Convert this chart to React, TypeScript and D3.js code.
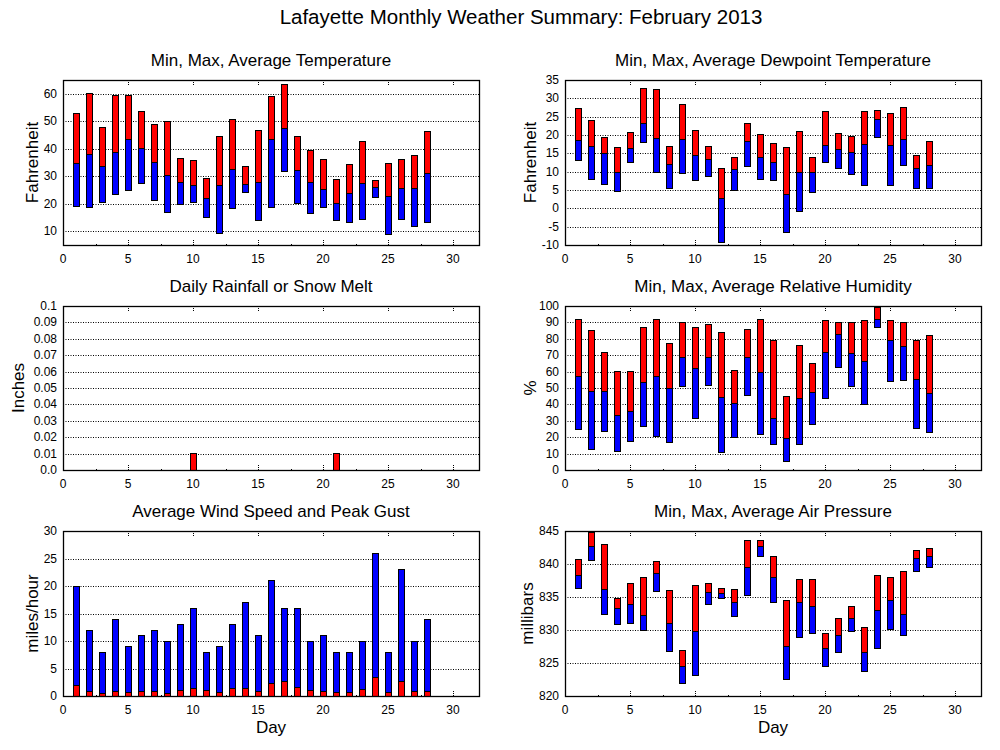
import * as d3 from "d3";
import React, {useEffect, useRef} from "react";

// day of month for every record
const days = [1, 2, 3, 4, 5, 6, 7, 8, 9, 10, 11, 12, 13, 14, 15, 16, 17, 18, 19, 20, 21, 22, 23, 24, 25, 26, 27, 28];

const tempMax = [53, 60, 47.6, 59.3, 59.3, 53.4, 49, 49.8, 36.6, 35.9, 29.3, 44.3, 50.5, 33.7, 46.5, 58.9, 63.3, 44.6, 39.5, 36.2, 28.9, 34.4, 42.8, 28.5, 34.8, 36.2, 37.7, 46.1];
const tempAvg = [34.8, 38, 33.7, 38.8, 43.2, 40.2, 35.1, 30.4, 27.8, 26.6, 22, 26.6, 32.6, 27.1, 27.8, 43.5, 47.2, 32.2, 27.8, 25.2, 20.1, 23.8, 27.4, 26, 22.7, 25.6, 25.6, 31.1];
const tempMin = [18.9, 18.5, 20.5, 23.4, 24.8, 27.4, 21.1, 16.8, 19.8, 20.5, 15, 9.1, 18.3, 24.1, 13.9, 18.7, 31.8, 20.1, 16.5, 18.7, 13.9, 13.2, 14.3, 22.3, 8.8, 14.3, 11.7, 13.2];

const dewMax = [27.2, 23.9, 19.3, 16.5, 20.6, 32.7, 32.4, 16.8, 28.3, 21.2, 16.8, 11, 13.8, 23.1, 20.1, 17.6, 16.5, 20.9, 14, 26.4, 20.4, 19.5, 26.4, 26.7, 25.9, 27.5, 14.3, 18.2];
const dewAvg = [18.4, 16.8, 14.9, 9.9, 16.2, 23.1, 19, 11.9, 18.7, 14.3, 13.2, 2.8, 10.5, 18.2, 13.8, 12.4, 3.9, 9.7, 9.9, 17.1, 16, 15.1, 17.3, 24.2, 17.1, 18.7, 10.8, 11.6];
const dewMin = [13, 8, 6.6, 4.7, 12.4, 17.9, 9.7, 5.3, 9.4, 7.7, 8.6, -9.3, 5, 11.3, 8, 7.5, -6.5, -0.8, 4.4, 12.4, 10.8, 9.1, 6.1, 19.3, 6.1, 11.6, 5.5, 5.3];

const rainfall = [0, 0, 0, 0, 0, 0, 0, 0, 0, 0.01, 0, 0, 0, 0, 0, 0, 0, 0, 0, 0, 0.01, 0, 0, 0, 0, 0, 0, 0];

const humMax = [91.9, 85.2, 71.7, 60.2, 60.2, 87, 91.9, 77.2, 90, 87, 88.8, 83.9, 60.8, 85.8, 91.9, 79.1, 44.9, 76, 65, 91.3, 90, 90, 91.3, 99.2, 91.3, 90, 79.1, 82.1];
const humAvg = [57.1, 47.8, 47.8, 33.3, 35.8, 53.5, 57.1, 49.8, 68.7, 62, 68.7, 44.3, 40.7, 68.7, 59.6, 31.5, 19.3, 43.7, 47.4, 71.7, 82.7, 71.1, 66.3, 91.9, 79.1, 75.4, 55.3, 46.7];
const humMin = [24.8, 12.6, 23.6, 11.4, 17.5, 26.6, 20.5, 16.9, 51, 31.5, 51.6, 10.8, 19.9, 45.5, 21.7, 15.7, 5.3, 15.7, 27.8, 43.7, 62.6, 51, 40, 87, 54.1, 54.7, 25.4, 23];

const windGust = [20, 12, 8, 14, 9, 11, 12, 10, 13, 16, 8, 9, 13, 17, 11, 21, 16, 16, 10, 11, 8, 8, 10, 26, 8, 23, 10, 14];
const windAvg = [1.9, 0.9, 0.5, 0.85, 0.67, 0.85, 0.85, 0.5, 1.0, 1.4, 1.0, 0.67, 1.4, 1.4, 0.85, 2.3, 2.67, 1.58, 1.0, 0.85, 0.67, 0.67, 1.2, 3.4, 0.67, 2.67, 0.85, 0.85];

const presMax = [840.75, 844.7, 842.9, 834.7, 837, 838, 840.4, 836, 826.9, 836.8, 837.1, 836.3, 836.2, 843.6, 843.6, 841.2, 834.5, 837.7, 837.7, 829.5, 831.8, 833.5, 830.4, 838.2, 838, 838.8, 842, 842.4];
const presAvg = [838.2, 842.6, 836.2, 833.2, 833.8, 832.2, 838.5, 831, 824.4, 829.7, 835.7, 835.6, 834.1, 839.4, 842.7, 837.9, 827.5, 834.1, 833.6, 827.2, 829.2, 831.8, 826.6, 832.9, 834.4, 832.4, 840.9, 841.2];
const presMin = [836.35, 840.6, 832.4, 830.9, 831, 830, 835.9, 826.8, 821.9, 823.1, 833.8, 834.7, 832.1, 835.3, 841.2, 834.2, 822.5, 828.8, 829.4, 824.4, 826.6, 829.8, 823.7, 827.2, 830.1, 829.1, 838.8, 839.4];

// axis ticks
const dayTicks = [0, 5, 10, 15, 20, 25, 30];
const dayMinorTicks = [2.5, 7.5, 12.5, 17.5, 22.5, 27.5];
const tempTicks = [10, 20, 30, 40, 50, 60];
const dewTicks = [-10, -5, 0, 5, 10, 15, 20, 25, 30, 35];
const rainTicks = [0, 0.01, 0.02, 0.03, 0.04, 0.05, 0.06, 0.07, 0.08, 0.09, 0.1];
const rainLabels = ["0.0", "0.01", "0.02", "0.03", "0.04", "0.05", "0.06", "0.07", "0.08", "0.09", "0.1"];
const humTicks = [0, 10, 20, 30, 40, 50, 60, 70, 80, 90, 100];
const windTicks = [0, 5, 10, 15, 20, 25, 30];
const presTicks = [820, 825, 830, 835, 840, 845];

const FONT = "'Liberation Sans', Arial, Helvetica, sans-serif";
const RED = "#ff0000";
const BLUE = "#0000ff";

interface PanelOpts {
  x0: number
  x1: number
  y0: number
  y1: number
  domain: [number, number]
  ticks: number[]
  labels?: string[]
  title: string
  ylabel: string
  ylabelX: number
  xlabel?: boolean
}

type Sel = d3.Selection<SVGSVGElement, unknown, null, undefined>;

function drawPanel(svg: Sel, o: PanelOpts) {
  const x = d3.scaleLinear().domain([0, 32]).range([o.x0, o.x1]);
  const y = d3.scaleLinear().domain(o.domain).range([o.y1, o.y0]);
  const g = svg.append('g');

  // horizontal grid
  g.selectAll('.grid')
    .data(o.ticks.filter(t => t > o.domain[0] && t < o.domain[1]))
    .enter().append('line')
    .attr('x1', o.x0).attr('x2', o.x1)
    .attr('y1', d => Math.round(y(d)) + 0.5).attr('y2', d => Math.round(y(d)) + 0.5)
    .attr('stroke', '#000')
    .attr('stroke-width', 1)
    .attr('stroke-dasharray', '1,1.5');

  // x tick marks, top and bottom
  const tick = (vals: number[], len: number) => {
    vals.forEach(v => {
      const px = Math.round(x(v)) + 0.5;
      g.append('line').attr('x1', px).attr('x2', px)
        .attr('y1', o.y1).attr('y2', o.y1 - len)
        .attr('stroke', '#000').attr('stroke-dasharray', '1,1');
      g.append('line').attr('x1', px).attr('x2', px)
        .attr('y1', o.y0).attr('y2', o.y0 + len)
        .attr('stroke', '#000').attr('stroke-dasharray', '1,1');
    });
  };
  tick(dayTicks.slice(1), 5);
  tick(dayMinorTicks, 2);

  // tick labels
  g.selectAll('.xl')
    .data(dayTicks)
    .enter().append('text')
    .attr('x', d => x(d))
    .attr('y', o.y1 + 18)
    .attr('text-anchor', 'middle')
    .attr('font-size', 12)
    .text(d => String(d));

  g.selectAll('.yl')
    .data(o.ticks)
    .enter().append('text')
    .attr('x', o.x0 - 6)
    .attr('y', d => y(d) + 4)
    .attr('text-anchor', 'end')
    .attr('font-size', 12)
    .text((d, i) => o.labels ? o.labels[i] : String(d));

  g.append('text')
    .attr('x', (o.x0 + o.x1) / 2)
    .attr('y', o.y0 - 14)
    .attr('text-anchor', 'middle')
    .attr('font-size', 17)
    .text(o.title);

  g.append('text')
    .attr('transform', `translate(${o.ylabelX},${(o.y0 + o.y1) / 2}) rotate(-90)`)
    .attr('text-anchor', 'middle')
    .attr('dy', '0.35em')
    .attr('font-size', 17)
    .text(o.ylabel);

  if (o.xlabel) {
    g.append('text')
      .attr('x', (o.x0 + o.x1) / 2)
      .attr('y', o.y1 + 37)
      .attr('text-anchor', 'middle')
      .attr('font-size', 17)
      .text('Day');
  }

  return {x, y, g};
}

function drawBorder(g: d3.Selection<SVGGElement, unknown, null, undefined>, o: PanelOpts) {
  g.append('rect')
    .attr('x', o.x0 + 0.5).attr('y', o.y0 + 0.5)
    .attr('width', o.x1 - o.x0).attr('height', o.y1 - o.y0)
    .attr('fill', 'none')
    .attr('stroke', '#000')
    .attr('stroke-width', 1.3);
}

const BAR_W = 6;

function drawRange(panel: ReturnType<typeof drawPanel>, mins: number[], avgs: number[], maxs: number[]) {
  const {x, y, g} = panel;
  const bars = g.append('g').attr('shape-rendering', 'crispEdges');
  bars.selectAll('.hi')
    .data(days)
    .enter().append('rect')
    .attr('x', d => x(d) - BAR_W / 2)
    .attr('y', (d, i) => y(maxs[i]))
    .attr('width', BAR_W)
    .attr('height', (d, i) => y(avgs[i]) - y(maxs[i]))
    .attr('fill', RED).attr('stroke', '#000');
  bars.selectAll('.lo')
    .data(days)
    .enter().append('rect')
    .attr('x', d => x(d) - BAR_W / 2)
    .attr('y', (d, i) => y(avgs[i]))
    .attr('width', BAR_W)
    .attr('height', (d, i) => y(mins[i]) - y(avgs[i]))
    .attr('fill', BLUE).attr('stroke', '#000');
}

function drawBars(panel: ReturnType<typeof drawPanel>, vals: number[], color: string) {
  const {x, y, g} = panel;
  g.append('g').attr('shape-rendering', 'crispEdges')
    .selectAll('rect')
    .data(days.filter((d, i) => vals[i] > 0))
    .enter().append('rect')
    .attr('x', d => x(d) - BAR_W / 2)
    .attr('y', d => y(vals[d - 1]))
    .attr('width', BAR_W)
    .attr('height', d => y(0) - y(vals[d - 1]))
    .attr('fill', color).attr('stroke', '#000');
}

const App: React.FC = () => {
  const svgRef = useRef<SVGSVGElement | null>(null);

  useEffect(() => {
    if (!svgRef.current) {
      return
    }
    const svg = d3.select(svgRef.current);
    svg.selectAll('*').remove();

    svg.append('rect').attr('width', 1000).attr('height', 750).attr('fill', '#fff');

    svg.append('text')
      .attr('x', 521)
      .attr('y', 24)
      .attr('text-anchor', 'middle')
      .attr('font-size', 20.5)
      .text('Lafayette Monthly Weather Summary: February 2013');

    const L = {x0: 63, x1: 479};
    const R = {x0: 565, x1: 981};
    const rows = [{y0: 80, y1: 245}, {y0: 306, y1: 470}, {y0: 531, y1: 696}];

    const tempO: PanelOpts = {...L, ...rows[0], domain: [5, 65], ticks: tempTicks,
      title: 'Min, Max, Average Temperature', ylabel: 'Fahrenheit', ylabelX: 32};
    const temp = drawPanel(svg, tempO);
    drawRange(temp, tempMin, tempAvg, tempMax);
    drawBorder(temp.g, tempO);

    const dewO: PanelOpts = {...R, ...rows[0], domain: [-10, 35], ticks: dewTicks,
      title: 'Min, Max, Average Dewpoint Temperature', ylabel: 'Fahrenheit', ylabelX: 530};
    const dew = drawPanel(svg, dewO);
    drawRange(dew, dewMin, dewAvg, dewMax);
    drawBorder(dew.g, dewO);

    const rainO: PanelOpts = {...L, ...rows[1], domain: [0, 0.1], ticks: rainTicks, labels: rainLabels,
      title: 'Daily Rainfall or Snow Melt', ylabel: 'Inches', ylabelX: 18};
    const rain = drawPanel(svg, rainO);
    drawBars(rain, rainfall, RED);
    drawBorder(rain.g, rainO);

    const humO: PanelOpts = {...R, ...rows[1], domain: [0, 100], ticks: humTicks,
      title: 'Min, Max, Average Relative Humidity', ylabel: '%', ylabelX: 530};
    const hum = drawPanel(svg, humO);
    drawRange(hum, humMin, humAvg, humMax);
    drawBorder(hum.g, humO);

    const windO: PanelOpts = {...L, ...rows[2], domain: [0, 30], ticks: windTicks,
      title: 'Average Wind Speed and Peak Gust', ylabel: 'miles/hour', ylabelX: 32, xlabel: true};
    const wind = drawPanel(svg, windO);
    drawBars(wind, windGust, BLUE);
    drawBars(wind, windAvg, RED);
    drawBorder(wind.g, windO);

    const presO: PanelOpts = {...R, ...rows[2], domain: [820, 845], ticks: presTicks,
      title: 'Min, Max, Average Air Pressure', ylabel: 'millibars', ylabelX: 527, xlabel: true};
    const pres = drawPanel(svg, presO);
    drawRange(pres, presMin, presAvg, presMax);
    drawBorder(pres.g, presO);
  }, []);

  return (
    <svg
      ref={svgRef}
      width={1000}
      height={750}
      style={{position: 'absolute', left: 0, top: 0, fontFamily: FONT}}
    />
  );
}

export default App;
